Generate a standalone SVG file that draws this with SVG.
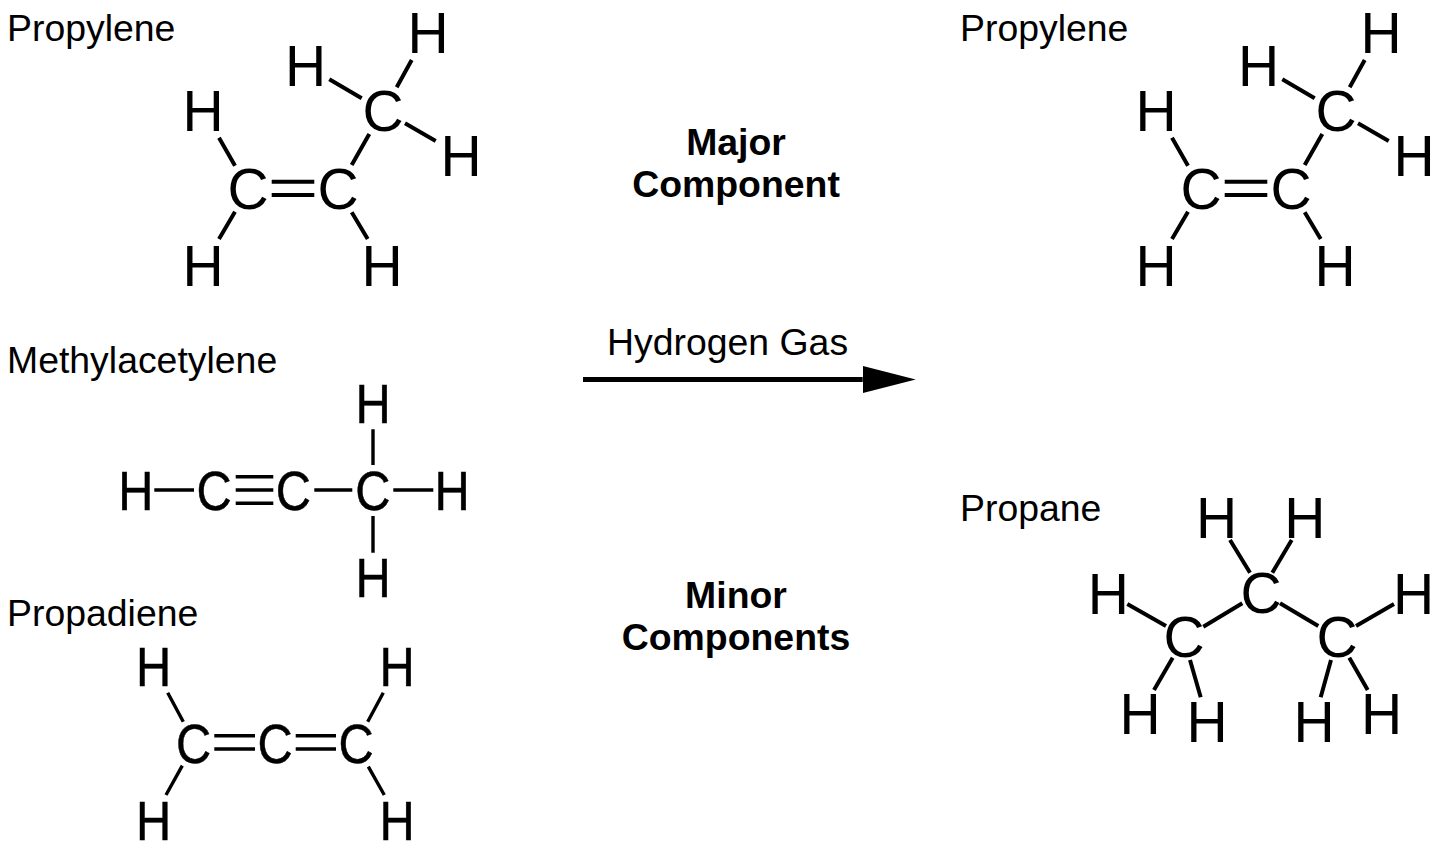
<svg xmlns="http://www.w3.org/2000/svg" width="1441" height="850" viewBox="0 0 1441 850">
<defs>
<style>
text{font-family:"Liberation Sans",Arial,sans-serif;fill:#000}
.lbl{font-size:37.4px}
.b{font-size:37.4px;font-weight:bold;text-anchor:middle}
.a{font-size:57px;text-anchor:middle}
.n{font-size:56px;text-anchor:middle;stroke:#000;stroke-width:.5}
.bond{stroke:#000;stroke-width:4;fill:none}
.thin{stroke:#000;stroke-width:3.4;fill:none}
</style>
<marker id="head" markerUnits="userSpaceOnUse" markerWidth="53" markerHeight="27" refX="0" refY="13.5" orient="auto"><path d="M0 0L53 13.5L0 27Z" fill="#000"/></marker>
<g id="propyleneBonds">
<path class="bond" d="M329.3 79.3L361.7 98.3M411.7 60L396.7 87.3M405 123.3L435.7 141M369.3 134L351.7 165M219 137.7L235 165.7M235 211.7L219 239M351.7 212.3L367.7 239M271.7 181.7H314.3M271.7 195H314.3"/>
</g>
<g id="propyleneAtoms">
<text class="a" x="428" y="53">H</text>
<text class="a" x="305.500" y="85.700">H</text>
<text class="a" x="203" y="130.700">H</text>
<text class="a" x="461" y="175.700">H</text>
<text class="a" x="203" y="286">H</text>
<text class="a" x="382" y="286">H</text>
<text class="a" x="383" y="131">C</text>
<text class="a" x="248" y="209">C</text>
<text class="a" x="338" y="209">C</text>
</g>
</defs>
<rect width="1441" height="850" fill="#fff"/>
<g id="connectors">
<use href="#propyleneBonds"/>
<use href="#propyleneBonds" x="953"/>
<path id="methylacetylene-bonds" class="thin" d="M154.300 490H194M235.700 476.700H273.300M235.700 490H273.300M235.700 503.300H273.300M314.300 490H352.300M393.300 490H433.300M373 429.300V465M373 516V552.700"/>
<path id="propadiene-bonds" class="thin" d="M167.700 692.700L183.300 721.700M182.300 765.700L166 795M383.300 692.700L367.700 721.700M368.300 766.700L384.300 795M214.300 735.700H255M214.300 749H255M295.700 735.700H336M295.700 749H336"/>
<path id="propane-bonds" class="bond" d="M1230 540L1250 572.700M1291.700 540L1272.300 572.700M1127.300 604L1166 626M1203.300 626.700L1242.300 603.300M1280 603.300L1318.300 626M1356 626L1394 604M1172.700 657.700L1154 690M1190 660L1200.700 697.300M1331 660L1320.700 697.300M1349.300 657.700L1367.700 690"/>
<line id="reaction-arrow" x1="583" y1="379.500" x2="862.700" y2="379.500" stroke="#000" stroke-width="5" marker-end="url(#head)"/>
</g>
<g id="propylene-left">
<text class="lbl" x="7" y="41">Propylene</text>
<use href="#propyleneAtoms"/>
</g>
<g id="propylene-right">
<text class="lbl" x="960" y="41">Propylene</text>
<use href="#propyleneAtoms" x="953"/>
</g>
<g id="methylacetylene">
<text class="lbl" x="7" y="373">Methylacetylene</text>
<text class="n" transform="translate(373 423.300) scale(.87 1)">H</text>
<text class="n" transform="translate(135.800 510) scale(.87 1)">H</text>
<text class="n" transform="translate(452 510) scale(.87 1)">H</text>
<text class="n" transform="translate(373 596.700) scale(.87 1)">H</text>
<text class="n" transform="translate(214 510) scale(.87 1)">C</text>
<text class="n" transform="translate(293.300 510) scale(.87 1)">C</text>
<text class="n" transform="translate(372.800 510) scale(.87 1)">C</text>
</g>
<g id="propadiene">
<text class="lbl" x="7" y="626">Propadiene</text>
<text class="n" transform="translate(153.700 685.700) scale(.87 1)">H</text>
<text class="n" transform="translate(397.200 685.700) scale(.87 1)">H</text>
<text class="n" transform="translate(153.700 840) scale(.87 1)">H</text>
<text class="n" transform="translate(397.200 840) scale(.87 1)">H</text>
<text class="n" transform="translate(193.700 763) scale(.87 1)">C</text>
<text class="n" transform="translate(275 763) scale(.87 1)">C</text>
<text class="n" transform="translate(356 763) scale(.87 1)">C</text>
</g>
<g id="propane">
<text class="lbl" x="960" y="521">Propane</text>
<text class="a" x="1216.700" y="537.500">H</text>
<text class="a" x="1304.800" y="537.500">H</text>
<text class="a" x="1108.300" y="614">H</text>
<text class="a" x="1413.500" y="614">H</text>
<text class="a" x="1140.200" y="734">H</text>
<text class="a" x="1207" y="742">H</text>
<text class="a" x="1314.200" y="742">H</text>
<text class="a" x="1381.700" y="734">H</text>
<text class="a" x="1261" y="612.500">C</text>
<text class="a" x="1184" y="656.500">C</text>
<text class="a" x="1337" y="656.500">C</text>
</g>
<g id="major-label"><text class="b" x="736" y="155">Major</text><text class="b" x="736" y="197">Component</text></g>
<g id="minor-label"><text class="b" x="736" y="608">Minor</text><text class="b" x="736" y="650">Components</text></g>
<text id="arrow-label" class="lbl" x="607" y="355">Hydrogen Gas</text>
</svg>
